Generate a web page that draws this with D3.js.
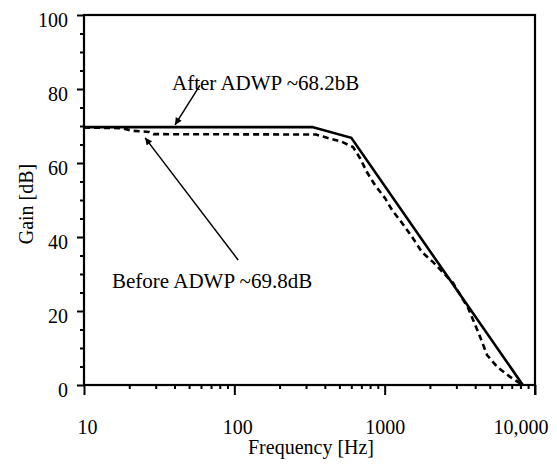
<!DOCTYPE html>
<html lang="en">
<head>
    <meta charset="utf-8">
    <title>Gain vs Frequency</title>
    <script src="https://d3js.org/d3.v7.min.js"></script>
    <style>
        body {
            margin: 0;
            background: #ffffff;
        }
        svg text {
            font-family: "Liberation Serif", "Times New Roman", serif;
            font-size: 20px;
            fill: #000;
        }
        .note {
            font-size: 21px;
        }
    </style>
</head>
<body>
    <svg id="chart" width="557" height="465"></svg>

    <script>
        // Data (frequency in Hz, gain in dB)
        const afterFreq = [10, 330, 600, 8300];
        const afterGain = [69.7, 69.7, 66.8, 0];

        const beforeFreq = [10, 18, 21, 27, 29, 350, 414, 521, 616, 686, 763, 863, 1006, 1120, 1305,
                            1522, 1773, 2100, 2850, 3590, 3875, 4315, 4800, 5600, 6830, 7720, 8300];
        const beforeGain = [69.6, 69.4, 68.7, 68.4, 67.8, 67.7, 66.8, 65.7, 64.3, 61.3, 57.5, 54, 50.5, 47.3, 43.8,
                            40, 35.9, 33.2, 27.6, 20.8, 17.6, 13, 8.1, 4.9, 2.2, 0.8, 0];

        const xMajor = [10, 100, 1000, 10000];
        const xLabels = ["10", "100", "1000", "10,000"];
        const yMajor = [0, 20, 40, 60, 80, 100];

        const svg = d3.select("#chart");
        const x = d3.scaleLog().domain([10, 10000]).range([84, 535]);
        const y = d3.scaleLinear().domain([0, 100]).range([385, 15]);

        // minor ticks
        const xMinor = [];
        [10, 100, 1000].forEach(d => { for (let k = 2; k <= 9; k++) xMinor.push(d * k); });
        const yMinor = d3.range(0, 101, 5).filter(v => v % 20 !== 0);

        svg.append("g")
            .attr("transform", "translate(0,385)")
            .call(d3.axisBottom(x).tickValues(xMinor).tickSize(4).tickFormat(""))
            .call(g => g.select(".domain").remove())
            .selectAll("line").attr("stroke-width", 2);

        const xAx = svg.append("g")
            .attr("transform", "translate(0,385)")
            .call(d3.axisBottom(x).tickValues(xMajor).tickSize(10).tickPadding(25)
                .tickFormat((d, i) => xLabels[i]))
            .call(g => g.select(".domain").remove());
        xAx.selectAll("line").attr("stroke-width", 2);
        xAx.selectAll("text").style("font-size", "20px").style("font-family", "Liberation Serif");
        xAx.selectAll("text").filter(d => d === 10000).attr("text-anchor", "end").attr("dx", 13);
        xAx.selectAll("text").filter(d => d === 10 || d === 100).attr("dx", 3);

        svg.append("g")
            .attr("transform", "translate(84,0)")
            .call(d3.axisLeft(y).tickValues(yMinor).tickSize(4).tickFormat(""))
            .call(g => g.select(".domain").remove())
            .selectAll("line").attr("stroke-width", 2);

        const yAx = svg.append("g")
            .attr("transform", "translate(84,0)")
            .call(d3.axisLeft(y).tickValues(yMajor).tickSize(7).tickPadding(9))
            .call(g => g.select(".domain").remove());
        yAx.selectAll("line").attr("stroke-width", 2);
        yAx.selectAll("text").attr("dy", "0.55em")
            .style("font-size", "20px").style("font-family", "Liberation Serif");

        // frame
        svg.append("rect")
            .attr("x", x(10)).attr("y", y(100))
            .attr("width", x(10000) - x(10)).attr("height", y(0) - y(100))
            .attr("fill", "none").attr("stroke", "#000").attr("stroke-width", 2.2);
        svg.append("line").attr("x1", x(10000)).attr("x2", x(10000))
            .attr("y1", y(0)).attr("y2", y(0) + 10).attr("stroke", "#000").attr("stroke-width", 2);

        const line = d3.line().x(d => x(d[0])).y(d => y(d[1]));

        svg.append("path")
            .datum(d3.zip(beforeFreq, beforeGain))
            .attr("d", line)
            .attr("fill", "none").attr("stroke", "#000")
            .attr("stroke-width", 2.6).attr("stroke-dasharray", "6,4");

        svg.append("path")
            .datum(d3.zip(afterFreq, afterGain))
            .attr("d", line)
            .attr("fill", "none").attr("stroke", "#000")
            .attr("stroke-width", 2.6);

        // annotations
        svg.append("defs").append("marker")
            .attr("id", "head").attr("viewBox", "0 0 10 10")
            .attr("refX", 10).attr("refY", 5)
            .attr("markerWidth", 10).attr("markerHeight", 7)
            .attr("markerUnits", "userSpaceOnUse")
            .attr("orient", "auto")
            .append("path").attr("d", "M0,0L10,5L0,10Z").attr("fill", "#000");

        svg.append("line")
            .attr("x1", x(59)).attr("y1", y(81))
            .attr("x2", x(40.3)).attr("y2", y(70.3))
            .attr("stroke", "#000").attr("stroke-width", 1.5)
            .attr("marker-end", "url(#head)");
        svg.append("line")
            .attr("x1", x(106)).attr("y1", y(33.8))
            .attr("x2", x(25.5)).attr("y2", y(66.8))
            .attr("stroke", "#000").attr("stroke-width", 1.5)
            .attr("marker-end", "url(#head)");

        svg.append("text").attr("class", "note").attr("x", 172).attr("y", 90).text("After ADWP ~68.2bB");
        svg.append("text").attr("class", "note").attr("x", 112).attr("y", 288).text("Before ADWP ~69.8dB");

        svg.append("text")
            .attr("text-anchor", "middle")
            .attr("x", 311).attr("y", 454)
            .text("Frequency [Hz]");
        svg.append("text")
            .attr("text-anchor", "middle")
            .attr("transform", "translate(33,204) rotate(-90)")
            .text("Gain [dB]");
    </script>
</body>
</html>
